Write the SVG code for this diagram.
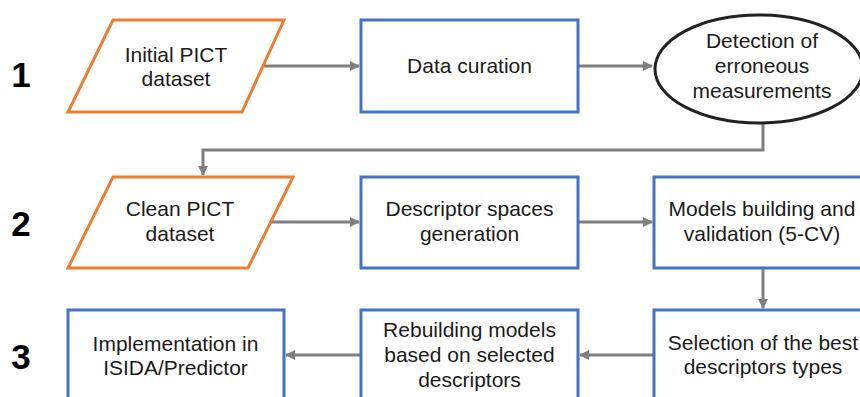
<svg xmlns="http://www.w3.org/2000/svg" width="860" height="397" viewBox="0 0 860 397">
<defs>
<marker id="ah" viewBox="0 0 10 10" refX="9" refY="5" markerWidth="3.4" markerHeight="3.4" orient="auto" markerUnits="strokeWidth">
<path d="M0,0 L10,5 L0,10 z" fill="#7f7f7f"/>
</marker>
<style>
text{font-family:"Liberation Sans",Arial,sans-serif;font-size:21px;fill:#1a1a1a;text-anchor:middle}
.num{font-size:35px;font-weight:bold;fill:#000}
.io{fill:#fff;stroke:#ED7D31;stroke-width:3}
.proc{fill:#fff;stroke:#4472C4;stroke-width:3}
.dec{fill:#fff;stroke:#222;stroke-width:3}
.c{fill:none;stroke:#7f7f7f;stroke-width:3;marker-end:url(#ah)}
</style>
</defs>
<rect width="860" height="397" fill="#fff"/>
<g id="labels">
<text class="num" x="21" y="87">1</text>
<text class="num" x="21" y="236">2</text>
<text class="num" x="21" y="369">3</text>
</g>
<g id="connectors">
<path class="c" d="M263,66 H359"/>
<path class="c" d="M578,66 H652"/>
<path class="c" d="M763,124 V150 H203 V175"/>
<path class="c" d="M270,222 H359"/>
<path class="c" d="M578,222 H652"/>
<path class="c" d="M763,268 V308"/>
<path class="c" d="M654,355 H580"/>
<path class="c" d="M361,355 H286"/>
</g>
<g id="initial">
<polygon class="io" points="113,20 284,20 242,112 68,112"/>
<text x="176" y="62">Initial PICT</text>
<text x="176" y="86">dataset</text>
</g>
<g id="curation">
<rect class="proc" x="361" y="20" width="217" height="92"/>
<text x="469.5" y="73">Data curation</text>
</g>
<g id="detection">
<ellipse class="dec" cx="759" cy="69" rx="104" ry="54"/>
<text x="762" y="48">Detection of</text>
<text x="762" y="73">erroneous</text>
<text x="762" y="98">measurements</text>
</g>
<g id="clean">
<polygon class="io" points="113,177 293,177 248,268 68,268"/>
<text x="180" y="216">Clean PICT</text>
<text x="180" y="241">dataset</text>
</g>
<g id="descriptors">
<rect class="proc" x="361" y="177" width="217" height="91"/>
<text x="469.5" y="216">Descriptor spaces</text>
<text x="469.5" y="241">generation</text>
</g>
<g id="models">
<rect class="proc" x="654" y="177" width="230" height="91"/>
<text x="762" y="216">Models building and</text>
<text x="762" y="241">validation (5-CV)</text>
</g>
<g id="selection">
<rect class="proc" x="654" y="310" width="230" height="110"/>
<text x="763" y="350">Selection of the best</text>
<text x="763" y="374">descriptors types</text>
</g>
<g id="rebuilding">
<rect class="proc" x="361" y="310" width="217" height="110"/>
<text x="469.5" y="337">Rebuilding models</text>
<text x="469.5" y="362">based on selected</text>
<text x="469.5" y="387">descriptors</text>
</g>
<g id="implementation">
<rect class="proc" x="68" y="310" width="216" height="110"/>
<text x="175.5" y="351">Implementation in</text>
<text x="175.5" y="375">ISIDA/Predictor</text>
</g>
</svg>
